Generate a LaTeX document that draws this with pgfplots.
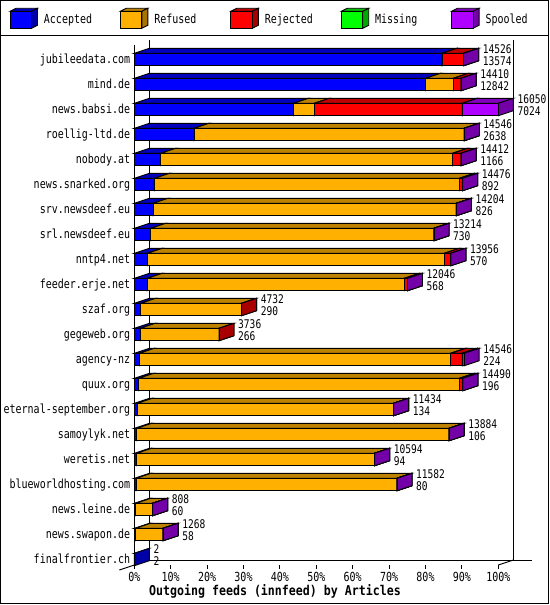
\documentclass[border=0pt]{standalone}
\usepackage{fontspec}
\usepackage{pgfplots}
\usepackage{pgfplotstable}
\pgfplotsset{compat=1.18}
\newfontfamily\gdfont[FakeStretch=0.8]{DejaVu Sans Mono}
\newfontfamily\gdbfont[FakeStretch=0.86]{DejaVu Sans Mono Bold}
\newcommand\gd{\gdfont\fontsize{12.55}{14}\selectfont}
\newcommand\gdv{\gdfont\fontsize{12}{13}\selectfont}
\newcommand\gdb{\gdbfont\fontsize{13.55}{15}\selectfont}

\definecolor{accF}{RGB}{0,0,255}
\definecolor{refF}{RGB}{255,176,0}
\definecolor{rejF}{RGB}{255,0,0}
\definecolor{misF}{RGB}{0,255,0}
\definecolor{spoF}{RGB}{176,0,255}
\colorlet{accT}{accF!74!black}\colorlet{accS}{accF!66!black}
\colorlet{refT}{refF!74!black}\colorlet{refS}{refF!66!black}
\colorlet{rejT}{rejF!74!black}\colorlet{rejS}{rejF!66!black}
\colorlet{misT}{misF!74!black}\colorlet{misS}{misF!66!black}
\colorlet{spoT}{spoF!74!black}\colorlet{spoS}{spoF!66!black}

\makeatletter
\newdimen\segbw
\newdimen\segbd
\newcommand\declarebox[1]{%
\pgfdeclareplotmark{box#1}{%
  \pgfmathfloatparsenumber{\segw}%
  \pgfmathfloatifflags{\pgfmathresult}{3}{\def\segok{0}}{\def\segok{1}}%
  \ifnum\segok=1
  \pgfmathfloattofixed{\pgfmathresult}\let\segv\pgfmathresult
  \segbw=\dimexpr\segv bp*364/16050\relax
  \segbd=\dimexpr\segbw+15bp\relax
  \pgflinewidth=0.9bp\pgfsys@setlinewidth{\the\pgflinewidth}%
  \pgfsetstrokecolor{black}\pgfsetmiterjoin
  \pgfsetfillcolor{#1T}%
  \pgfpathmoveto{\pgfqpoint{0bp}{6.2bp}}%
  \pgfpathlineto{\pgfqpoint{\segbw}{6.2bp}}%
  \pgfpathlineto{\pgfqpoint{\segbd}{11.2bp}}%
  \pgfpathlineto{\pgfqpoint{15bp}{11.2bp}}%
  \pgfpathclose\pgfusepath{fill,stroke}%
  \pgfsetfillcolor{#1S}%
  \pgfpathmoveto{\pgfqpoint{\segbw}{-6.2bp}}%
  \pgfpathlineto{\pgfqpoint{\segbd}{-1.2bp}}%
  \pgfpathlineto{\pgfqpoint{\segbd}{11.2bp}}%
  \pgfpathlineto{\pgfqpoint{\segbw}{6.2bp}}%
  \pgfpathclose\pgfusepath{fill,stroke}%
  \pgfsetfillcolor{#1F}%
  \pgfpathmoveto{\pgfqpoint{0bp}{-6.2bp}}%
  \pgfpathlineto{\pgfqpoint{\segbw}{-6.2bp}}%
  \pgfpathlineto{\pgfqpoint{\segbw}{6.2bp}}%
  \pgfpathlineto{\pgfqpoint{0bp}{6.2bp}}%
  \pgfpathclose\pgfusepath{fill,stroke}%
  \fi
}}
\makeatother
\declarebox{acc}\declarebox{ref}\declarebox{rej}\declarebox{mis}\declarebox{spo}

\newcommand\legbox[1]{%
  \draw[line width=0.9bp, draw=black, fill=#1T] (0bp,8.5bp) -- (21.5bp,8.5bp) -- (27.5bp,11.5bp) -- (6bp,11.5bp) -- cycle;
  \draw[line width=0.9bp, draw=black, fill=#1S] (21.5bp,-8.5bp) -- (27.5bp,-5.5bp) -- (27.5bp,11.5bp) -- (21.5bp,8.5bp) -- cycle;
  \draw[line width=0.9bp, draw=black, fill=#1F] (0bp,-8.5bp) rectangle (21.5bp,8.5bp);
}

% counts of articles; row 0 = top bar
\pgfplotstableread{
idx tot acc ref rej mis spo
0 14526 13574 0 952 0 0
1 14410 12842 1223 345 0 0
2 16050 7024 912 6526 0 1588
3 14546 2638 11908 0 0 0
4 14412 1166 12871 375 0 0
5 14476 892 13439 145 0 0
6 14204 826 13378 0 0 0
7 13214 730 12484 0 0 0
8 13956 570 13098 288 0 0
9 12046 568 11338 140 0 0
10 4732 290 4442 0 nan nan
11 3736 266 3470 0 nan nan
12 14546 224 13726 516 0 80
13 14490 196 14135 159 0 0
14 11434 134 11300 0 0 0
15 13884 106 13778 0 0 0
16 10594 94 10500 0 0 0
17 11582 80 11502 0 0 0
18 808 60 748 0 0 0
19 1268 58 1210 0 0 0
20 2 2 nan nan nan nan
}\data

\begin{document}
\begin{tikzpicture}
\begin{axis}[
  at={(134.3bp,-565bp)}, anchor=south west,
  scale only axis, width=364bp, height=520bp,
  xmin=0, xmax=100, ymin=-0.58, ymax=20.22, y dir=reverse,
  clip=false,
  axis x line*=bottom, axis y line*=left,
  x axis line style={draw=none},
  y axis line style={line width=0.9bp, black},
  tick align=outside,
  major tick length=4bp,
  xtick={0,10,...,100},
  xticklabels={0\%,10\%,20\%,30\%,40\%,50\%,60\%,70\%,80\%,90\%,100\%},
  x tick style={line width=0.9bp, black},
  ytick={0,...,20},
  yticklabels={jubileedata.com,mind.de,news.babsi.de,roellig-ltd.de,nobody.at,news.snarked.org,srv.newsdeef.eu,srl.newsdeef.eu,nntp4.net,feeder.erje.net,szaf.org,gegeweb.org,agency-nz,quux.org,eternal-september.org,samoylyk.net,weretis.net,blueworldhosting.com,news.leine.de,news.swapon.de,finalfrontier.ch},
  y tick style={draw=none},
  tick label style={font=\gd},
  xticklabel style={anchor=base, inner sep=0pt, yshift=-12.5bp},
  yticklabel style={anchor=base east, inner sep=0pt, yshift=-3.8bp},
  xlabel={Outgoing feeds (innfeed) by Articles},
  xlabel style={at={(axis description cs:0.3865,-0.0587)}, anchor=base, inner sep=0pt, font=\gdb},
  legend columns=5,
  legend cell align=left,
  legend style={at={(-0.3427,1.0715)}, anchor=north west, draw=none, fill=none,
    inner sep=0pt, outer sep=0pt, font=\gd,
    nodes={inner sep=0pt, text width=76bp},
    /tikz/every odd column/.append style={column sep=6bp}},
]
% back wall and floor lines
\draw[line width=0.9bp] (axis cs:4.121,-0.78) -- (axis cs:4.121,20.02) -- (axis cs:109.26,20.02);
\draw[line width=0.9bp] (axis cs:104.121,-0.78) -- (axis cs:104.121,20.02);
\draw[line width=0.9bp] (axis cs:-4.121,20.42) -- (axis cs:4.121,20.02);
\draw[line width=0.9bp] (axis cs:100,20.22) -- (axis cs:104.121,20.02);

\addplot[scatter, only marks, mark=boxacc, point meta=\thisrow{idx},
  scatter/@pre marker code/.code={}, scatter/@post marker code/.code={},
  visualization depends on={\thisrow{acc} \as \segw},
  legend image code/.code={\legbox{acc}}]
  table[x expr=0*\thisrow{acc}, y=idx]{\data};
\addlegendentry{Accepted}
\addplot[scatter, only marks, mark=boxref, point meta=\thisrow{idx},
  scatter/@pre marker code/.code={}, scatter/@post marker code/.code={},
  visualization depends on={\thisrow{ref} \as \segw},
  legend image code/.code={\legbox{ref}}]
  table[x expr=(\thisrow{acc}+\thisrow{ref}-\thisrow{ref})/160.5, y=idx]{\data};
\addlegendentry{Refused}
\addplot[scatter, only marks, mark=boxrej, point meta=\thisrow{idx},
  scatter/@pre marker code/.code={}, scatter/@post marker code/.code={},
  visualization depends on={\thisrow{rej} \as \segw},
  legend image code/.code={\legbox{rej}}]
  table[x expr=(\thisrow{acc}+\thisrow{ref}+\thisrow{rej}-\thisrow{rej})/160.5, y=idx]{\data};
\addlegendentry{Rejected}
\addplot[scatter, only marks, mark=boxmis, point meta=\thisrow{idx},
  scatter/@pre marker code/.code={}, scatter/@post marker code/.code={},
  visualization depends on={\thisrow{mis} \as \segw},
  legend image code/.code={\legbox{mis}}]
  table[x expr=(\thisrow{acc}+\thisrow{ref}+\thisrow{rej}+\thisrow{mis}-\thisrow{mis})/160.5, y=idx]{\data};
\addlegendentry{Missing}
\addplot[scatter, only marks, mark=boxspo, point meta=\thisrow{idx},
  scatter/@pre marker code/.code={}, scatter/@post marker code/.code={},
  visualization depends on={\thisrow{spo} \as \segw},
  legend image code/.code={\legbox{spo}}]
  table[x expr=(\thisrow{acc}+\thisrow{ref}+\thisrow{rej}+\thisrow{mis}+\thisrow{spo}-\thisrow{spo})/160.5, y=idx]{\data};
\addlegendentry{Spooled}

% value labels
\addplot[forget plot, draw=none, nodes near coords, point meta=explicit symbolic,
  every node near coord/.append style={anchor=base west, inner sep=0pt, font=\gdv, xshift=19bp, yshift=5.6bp, black}]
  table[x expr=\thisrow{tot}/160.5, y=idx, meta=tot]{\data};
\addplot[forget plot, draw=none, nodes near coords, point meta=explicit symbolic,
  every node near coord/.append style={anchor=base west, inner sep=0pt, font=\gdv, xshift=19bp, yshift=-6.4bp, black}]
  table[x expr=\thisrow{tot}/160.5, y=idx, meta=acc]{\data};
\end{axis}
\draw[line width=0.9bp] (0.5bp,-0.5bp) rectangle (548.5bp,-603.5bp);
\draw[line width=0.9bp] (0bp,-35.5bp) -- (549bp,-35.5bp);
\pgfresetboundingbox
\path[use as bounding box] (0bp,0bp) rectangle (550bp,-605bp);
\end{tikzpicture}
\end{document}
